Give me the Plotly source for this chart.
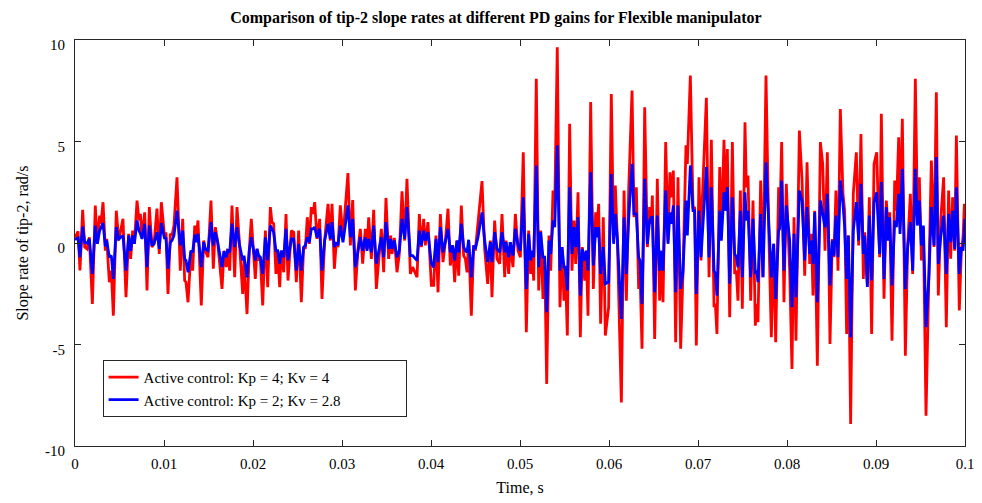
import plotly.graph_objects as go

# time in milliseconds
time_ms = [
    0, 0.34, 0.56, 0.86, 1.09, 1.35, 1.61, 1.95, 2.28, 2.51, 2.77, 2.92, 3.15, 3.41, 3.56, 3.86, 4.08, 4.31, 4.64, 4.91,
    5.13, 5.39, 5.73, 6.03, 6.25, 6.48, 6.67, 6.97, 7.19, 7.34, 7.53, 7.83, 8.09, 8.35, 8.65, 8.88, 9.21, 9.47, 9.70,
    10.07, 10.22, 10.45, 10.71, 10.90, 11.12, 11.46, 11.83, 12.10, 12.32, 12.47, 12.70, 13.03, 13.22, 13.45, 13.63, 13.82, 14.19, 14.46, 14.64,
    14.94, 15.28, 15.54, 15.77, 16.03, 16.52, 16.74, 17.00, 17.15, 17.38, 17.64, 17.94, 18.20, 18.46, 18.84, 18.99, 19.33, 19.59, 19.81,
    20.26, 20.45, 20.64, 20.82, 21.09, 21.39, 21.65, 21.95, 22.13, 22.32, 22.58, 22.77, 23.00, 23.18, 23.45, 23.71, 23.93, 24.31, 24.57, 24.87,
    25.13, 25.43, 25.69, 25.88, 26.10, 26.33, 26.55, 26.74, 26.93, 27.19, 27.49, 27.75, 28.05, 28.43, 28.69, 28.88, 29.14, 29.36, 29.55, 29.81,
    30.11, 30.67, 30.94, 31.20, 31.50, 31.80, 32.06, 32.32, 32.62, 32.81, 33.00, 33.30, 33.56, 33.86, 34.42, 34.68, 34.94, 35.24,
    35.47, 35.62, 35.88, 36.18, 36.44, 36.74, 37.04, 37.30, 37.68, 37.94, 38.43, 38.69, 38.91, 39.18, 39.36, 39.66, 40.04,
    40.30, 40.56, 40.79, 41.05, 41.35, 41.61, 41.91, 42.17, 42.43, 42.66, 42.92, 43.11, 43.41, 43.67, 43.86, 44.05, 44.23, 44.53, 44.80,
    44.98, 45.28, 45.73, 46.03, 46.37, 46.67, 46.85, 47.15, 47.42, 47.72, 47.98, 48.28, 48.43, 48.73, 48.91, 49.21, 49.48, 49.78, 50.04,
    50.37, 50.71, 50.97, 51.20, 51.35, 51.54, 51.83, 52.10, 52.32, 52.58, 52.77, 53.00, 53.26, 53.45, 53.71, 53.90, 54.19, 54.49, 54.72, 54.94,
    55.09, 55.32, 55.58, 55.84, 56.07, 56.26, 56.52, 56.78, 57.00, 57.27, 57.45, 57.64, 57.94, 58.24, 58.50, 58.65, 58.84, 59.06, 59.36, 59.59,
    59.96, 60.26, 60.52, 60.71, 60.94, 61.39, 61.69, 61.95, 62.21, 62.59, 62.81, 63.07, 63.33, 63.48, 63.71, 64.01, 64.31, 64.57, 64.76, 64.87,
    65.13, 65.43, 65.69, 65.80, 66.07, 66.37, 66.63, 66.85, 67.00, 67.23, 67.49, 67.75, 68.05, 68.31, 68.65, 68.80, 69.14, 69.44, 69.62, 69.81,
    70.11, 70.34, 70.45, 70.94, 71.24, 71.50, 71.80, 71.95, 72.13, 72.44, 72.62, 72.92, 73.11, 73.30, 73.56, 73.86, 74.12, 74.31, 74.49, 74.76,
    74.98, 75.28, 75.43, 75.62, 75.92, 76.18, 76.44, 76.59, 76.74, 77.04, 77.30, 77.64, 77.94, 78.24, 78.50, 78.73, 79.06, 79.18, 79.40, 79.66, 79.92,
    80.30, 80.56, 80.79, 81.01, 81.39, 81.69, 81.99, 82.25, 82.55, 82.74, 82.92, 83.11, 83.41, 83.75, 84.01, 84.27, 84.53, 84.83, 85.09, 85.28,
    85.50, 85.73, 85.99, 86.29, 86.48, 86.70, 86.89, 87.15, 87.45, 87.79, 88.05, 88.31, 88.58, 88.73, 89.03, 89.25, 89.51, 89.78, 90.08,
    90.41, 90.60, 90.90, 91.16, 91.35, 91.54, 91.80, 92.10, 92.29, 92.55, 92.70, 92.96, 93.30, 93.56, 93.86, 94.12, 94.42, 94.65, 94.87, 95.10,
    95.32, 95.62, 95.96, 96.22, 96.52, 96.78, 97.00, 97.27, 97.60, 97.90, 98.16, 98.39, 98.61, 98.84, 99.03, 99.36, 99.59, 99.78, 99.93, 100.0,
]

# slope rate, Kp = 4; Kv = 4 (rad/s)
red_kp4 = [
    0.27, 0.57, -1.35, 1.63, -0.2, -0.29, 0.28, -3.0, 1.85, -0.04, 1.35, 0.95, 2.01, -0.38, 0.2, -1.93, -1.36, -3.58, 1.59, 0.12,
    0.61, 1.19, -2.67, 0.45, -0.78, 0.61, -0.04, 2.09, 1.11, 1.43, 0.28, 1.51, -2.34, 1.77, -0.2, -0.04, 1.69, -0.54, 2.01,
    0.28, 0.53, -2.51, 0.45, 0.37, 0.86, 3.24, -1.36, 1.19, -1.85, -1.93, -2.92, -0.38, -1.36, 0.86, 0.37, 1.11, -3.08, 0.12, -0.38,
    -0.7, 2.09, -1.27, 0.78, 0.04, -2.26, -0.38, -1.19, -0.29, -1.36, 1.85, -1.69, 1.77, 0.12, -2.51, -0.86, -3.5, -0.29, 1.19,
    -1.77, -0.29, -0.86, -0.7, -3.08, 0.61, -2.18, 1.77, 1.03, 0.95, -1.52, -0.38, -2.18, -0.38, -1.44, 1.43, -1.85, 0.61, 0.53, -1.93,
    0.61, -2.92, -0.2, -0.29, 1.27, -0.04, 1.77, 1.43, 2.01, 0.2, 1.19, -2.76, 0.12, 1.93, 0.12, 1.93, -1.27, 0.04, -0.2, 1.85,
    0.28, 3.44, -0.12, 2.12, -2.34, -0.29, 0.7, -1.02, 0.7, -0.29, 1.27, -0.78, 1.63, -2.26, 0.7, -1.44, 2.22, -0.78,
    0.37, -0.54, 0.25, -1.44, -0.54, 2.55, 0.12, 3.16, -1.52, -1.19, -1.69, 1.43, -0.2, 1.19, -0.12, 1.03, -2.09,
    -2.09, 0.37, -2.43, 1.43, -0.94, 0.04, 1.69, -1.11, -0.12, -1.93, 0.12, -1.61, 1.85, -0.62, -0.78, -1.44, 0.12, -3.58, -0.12,
    -0.38, 0.95, 3.05, -0.29, -2.01, 0.12, -2.67, 1.11, -0.78, -1.02, 1.43, -1.69, 0.12, -1.52, 0.04, -1.19, 1.43, -0.38, -0.7,
    4.47, -4.4, 0.61, -1.52, -0.54, -1.85, 8.09, -2.34, 0.61, -2.75, -0.7, -6.94, 0.37, -1.36, 2.58, 1.77, 9.64, -3.16, -0.2, -2.84,
    -1.19, -4.56, 5.87, -1.36, 1.11, -1.03, 2.5, -4.64, -0.2, -1.85, -0.38, -3.58, 6.94, -2.26, 1.51, 0.78, 1.93, -3.98, 1.27, -4.56,
    -3.16, 7.34, 0.12, 2.83, 0.12, -7.85, 2.58, -2.84, 2.58, 7.51, 1.27, 2.75, -2.26, -1.36, -5.21, 6.69, -0.2, 1.77, 0.94, 2.34,
    -4.73, 3.16, -2.84, -0.54, -2.92, 4.97, 0.12, 3.48, 2.25, 3.57, -4.89, 3.24, -5.21, -1.52, 4.81, 3.9, 8.25, 1.69, 1.77, -5.05,
    3.24, -0.86, 1.77, 7.15, -1.69, 5.08, -3.16, -3.0, -4.48, 3.74, 0.28, 5.08, 1.59, 4.63, -3.66, 4.97, -1.52, -1.36, -2.84, 2.58,
    -3.24, 5.95, 2.75, 3.32, -2.84, 2.09, -4.07, -3.0, -3.9, 3.08, -1.69, 8.25, 0.78, -4.64, -0.04, -4.89, 2.75, 0.78, 4.97, -2.92, 2.92,
    -1.36, -6.2, 1.27, -4.81, 5.54, 3.08, -1.61, 3.98, -1.03, 0.45, -2.59, 1.59, -6.04, 4.97, 3.9, -0.38, 4.47, -4.97, 0.2, -0.7,
    2.58, -1.36, 6.6, 2.42, 1.59, -4.48, 0.37, -8.91, 2.42, 4.47, -0.12, 5.37, -1.77, 0.53, -2.01, 2.25, -4.48, 3.9, 4.47,
    -0.7, 6.36, -2.75, 2.09, 0.78, 1.51, -4.81, 3.08, 1.59, 5.21, 0.78, 6.12, -5.55, -0.12, 2.42, -1.52, 8.09, 1.43, 3.24, -0.86,
    0.78, -8.51, -1.19, 4.06, -0.2, 7.43, -2.59, 1.11, 3.24, -4.15, 2.58, -0.78, 2.25, -0.38, 5.29, -3.32, -0.38, 0.28, 1.93, 1.11,
]

# slope rate, Kp = 2; Kv = 2.8 (rad/s)
blue_kp2 = [
    0.17, 0.25, -0.7, 0.81, 0.04, -0.01, 0.2, -1.52, 0.86, -0.04, 0.61, 0.78, 0.98, -0.17, 0.12, -0.7, -0.62, -1.77, 0.78, 0.2,
    0.27, 0.37, -1.36, 0.37, -0.38, 0.37, -0.04, 1.11, 0.61, 0.47, 0.2, 0.95, -1.19, 0.86, -0.12, -0.04, 0.53, -0.29, 0.98,
    0.2, 0.28, -1.27, 0.04, 0.12, 0.37, 1.59, -0.12, 0.61, -0.78, -0.86, -1.44, -0.38, -0.46, 0.41, 0.04, 0.45, -1.19, 0.04, -0.29,
    -0.38, 1.03, -0.12, 0.53, 0.04, -1.19, -0.41, -0.7, -0.38, -0.46, 0.95, -0.2, 0.78, -0.04, -0.86, -0.62, -1.69, -0.34, 0.28,
    -0.86, -0.29, -0.62, -0.7, -1.52, 0.28, -0.86, 0.86, 0.7, 0.53, -0.38, -0.38, -1.02, -0.38, -0.7, 0.7, -0.86, 0.2, 0.2, -1.36,
    -0.04, -1.36, -0.2, -0.12, 0.28, 0.04, 0.7, 0.7, 0.78, 0.28, 0.7, -1.36, 0.12, 0.95, 0.2, 1.03, -0.2, 0.04, -0.12, 0.86,
    0.04, 1.85, 0.28, 1.19, -1.19, -0.38, 0.28, -0.38, 0.28, -0.38, 0.2, -0.46, 0.86, -1.02, 0.28, -0.7, 1.03, -0.29,
    0.2, -0.29, 0.12, -0.7, -0.38, 1.19, 0.2, 1.77, -0.62, -0.62, -0.86, 0.61, -0.12, 0.61, 0.12, 0.53, -1.02,
    -1.19, 0.2, -0.94, 0.78, -0.46, 0.04, 0.7, -0.46, -0.12, -0.86, 0.12, -0.46, 0.95, -0.2, -0.38, -0.46, 0.16, -1.69, -0.12,
    -0.29, 0.28, 1.51, 0.12, -0.94, 0.04, -0.94, 0.53, -0.29, -0.46, 0.53, -0.46, 0.04, -0.7, 0.04, -0.62, 0.7, -0.12, -0.38,
    2.25, -2.26, 0.45, -0.86, -0.38, -0.7, 3.82, -1.19, 0.53, -0.7, -0.7, -3.41, 0.12, -0.54, 1.11, 0.78, 4.81, -1.36, -0.2, -1.19,
    -1.19, -2.34, 2.75, -0.54, 0.78, -0.2, 1.27, -2.59, -0.29, -0.86, -0.38, -1.36, 3.48, -1.11, 0.78, 0.28, 0.78, -1.52, -0.2, -2.01,
    -1.93, 3.4, -0.04, 1.43, 0.2, -3.74, 1.27, -1.52, 1.19, 3.9, 1.43, 1.43, -0.7, -0.86, -3.0, 3.16, -0.04, 1.11, 1.27, 1.27,
    -2.43, 1.35, -1.36, -0.38, -1.36, 2.58, -0.04, 1.51, 0.94, 1.85, -2.43, 1.85, -2.26, -1.44, 2.09, 0.37, 3.82, 1.59, 1.59, -2.51,
    1.59, -0.7, 0.12, 3.74, -0.7, 2.75, -1.36, -1.52, -2.59, 1.59, 0.12, 2.5, 1.59, 2.75, -2.01, 2.25, -0.54, -0.7, -1.19, 1.59,
    -1.69, 2.5, 1.11, 1.59, -1.69, 1.19, -1.52, -1.36, -1.93, 1.43, -1.69, 3.98, 1.11, -1.69, -0.04, -2.75, 0.61, 0.7, 3.08, -1.36, 1.85,
    0.12, -3.16, 0.45, -2.67, 2.58, 2.09, -0.86, 1.77, -0.54, 0.12, -1.03, 1.51, -2.92, 2.09, 1.51, 0.78, 2.42, -2.09, 0.12, -0.62,
    1.35, -0.7, 3.08, 1.93, 0.78, -1.77, 0.37, -4.64, 0.61, 2.01, 0.12, 2.92, -0.54, 0.37, -2.17, 1.35, -1.85, 2.01, 2.5,
    -0.54, 3.0, -1.77, 1.77, 0.12, 1.27, -2.09, 1.11, 0.78, 2.42, 0.45, 3.65, -2.26, -0.2, 1.03, -1.36, 3.65, 0.86, 2.09, -0.12,
    0.86, -4.15, -1.52, 1.77, -0.12, 4.23, -1.03, 0.28, 1.35, -1.52, 1.43, 0.04, 1.59, -0.29, 2.75, -1.52, -0.2, -0.38, 0.61, 1.19,
]

x_ticks = [0, 0.01, 0.02, 0.03, 0.04, 0.05, 0.06, 0.07, 0.08, 0.09, 0.1]
x_labels = ["0", "0.01", "0.02", "0.03", "0.04", "0.05", "0.06", "0.07", "0.08", "0.09", "0.1"]
y_ticks = [-10, -5, 0, 5, 10]
y_labels = ["-10", "-5", "0", "5", "10"]

time_s = [t / 1000.0 for t in time_ms]
n = min(len(time_s), len(red_kp4), len(blue_kp2))

FONT = "Liberation Serif"
PAD = "\u00a0" * 16

fig = go.Figure()
fig.add_trace(go.Scatter(x=time_s[:n], y=red_kp4[:n], mode="lines",
                         line=dict(color="#ff0000", width=2.8),
                         name="Active control: Kp = 4; Kv = 4" + PAD))
fig.add_trace(go.Scatter(x=time_s[:n], y=blue_kp2[:n], mode="lines",
                         line=dict(color="#0000ff", width=2.8),
                         name="Active control: Kp = 2; Kv = 2.8" + PAD))

axis_common = dict(showline=True, linecolor="#262626", linewidth=1, mirror="allticks",
                   ticks="inside", ticklen=6, tickcolor="#262626", showgrid=False,
                   zeroline=False, automargin=False,
                   tickfont=dict(family=FONT, size=15, color="black"))

fig.update_layout(
    width=982, height=503,
    paper_bgcolor="white", plot_bgcolor="white",
    margin=dict(l=75, r=17, t=40, b=57),
    font=dict(family=FONT, color="black"),
    title=dict(text="<b>Comparison of tip-2 slope rates at different PD gains for Flexible manipulator</b>",
               x=0.505, xref="container", xanchor="center",
               y=0.965, yref="container", yanchor="middle",
               font=dict(family=FONT, size=16, color="black")),
    xaxis=dict(range=[0, 0.1], tickvals=x_ticks, ticktext=x_labels,
               ticklabelstandoff=4,
               title=dict(text="Time, s", font=dict(family=FONT, size=16), standoff=10),
               **axis_common),
    yaxis=dict(range=[-10, 10], tickvals=y_ticks, ticktext=y_labels,
               ticklabelshift=5, ticklabelstandoff=6,
               title=dict(text="Slope rate of tip-2, rad/s", font=dict(family=FONT, size=16), standoff=12),
               **axis_common),
    legend=dict(x=0.031, y=0.212, xanchor="left", yanchor="top",
                bgcolor="white", bordercolor="#262626", borderwidth=1,
                font=dict(family=FONT, size=15, color="black"),
                itemwidth=30, tracegroupgap=2),
    showlegend=True,
)

fig.write_html("out.html", config={"displayModeBar": False},
               post_script="document.body.style.margin='0';")
